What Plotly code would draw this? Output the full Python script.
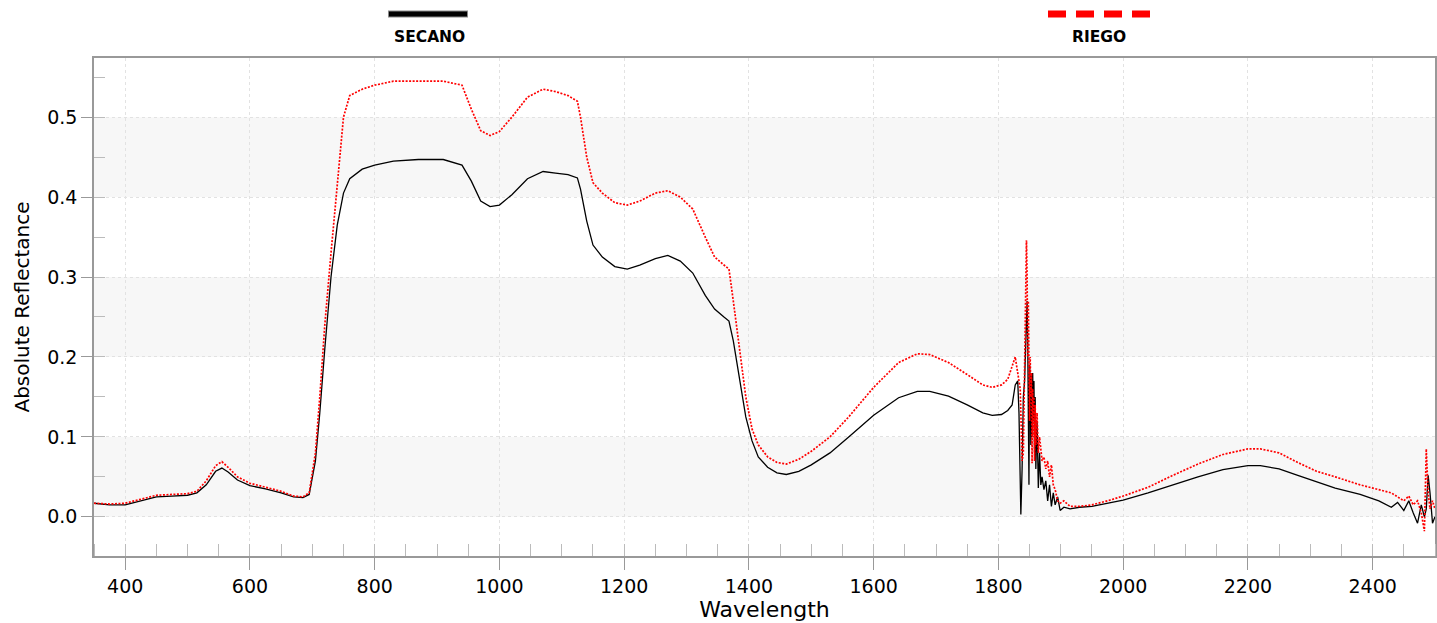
import plotly.graph_objects as go

wavelength = [350, 375, 400, 425, 450, 475, 500, 515, 530, 545, 555, 565, 580, 600, 625, 650, 670, 685,
              695, 705, 712, 720, 730, 740, 750, 760, 780, 800, 830, 870, 910, 940, 955, 970, 985, 1000,
              1020, 1045, 1070, 1090, 1110, 1125, 1130, 1140, 1150, 1165, 1185, 1205, 1225, 1250, 1270,
              1290, 1310, 1330, 1345, 1360, 1368, 1375, 1385, 1395, 1405, 1415, 1430, 1445, 1460, 1480,
              1500, 1530, 1560, 1600, 1640, 1670, 1690, 1720, 1750, 1775, 1790, 1805, 1815, 1822, 1827,
              1831, 1833, 1835, 1836, 1838, 1840, 1842, 1844, 1845, 1846,
              1847, 1848, 1849, 1850, 1851, 1852, 1853, 1854, 1855, 1856,
              1857, 1858, 1859, 1860, 1862, 1864, 1866, 1868, 1870, 1873,
              1876, 1879, 1882, 1885, 1888, 1891, 1895, 1899, 1905,
              1915, 1930, 1950, 1975, 2000, 2040, 2080, 2120, 2160, 2200, 2220, 2250, 2280, 2310, 2340,
              2380, 2410, 2430, 2440, 2450, 2458, 2465, 2472, 2478, 2483, 2486, 2489, 2492, 2496, 2500]

secano = [0.017, 0.015, 0.015, 0.020, 0.025, 0.026, 0.027, 0.030, 0.040, 0.057, 0.061, 0.056, 0.046, 0.039,
          0.035, 0.030, 0.025, 0.024,
          0.028, 0.070, 0.130, 0.210, 0.300, 0.365, 0.405, 0.423, 0.435, 0.440, 0.445, 0.447, 0.447, 0.440,
          0.420, 0.395, 0.388, 0.390,
          0.403, 0.423, 0.432, 0.430, 0.428, 0.424, 0.410, 0.370, 0.340, 0.325, 0.313, 0.310, 0.315, 0.323,
          0.327,
          0.320, 0.305, 0.277, 0.260, 0.250, 0.245, 0.220, 0.170, 0.125, 0.095, 0.075, 0.062, 0.055, 0.053,
          0.057,
          0.065, 0.080, 0.100, 0.127, 0.149, 0.157, 0.157, 0.151, 0.140, 0.130, 0.127, 0.128, 0.133, 0.140,
          0.165,
          0.170, 0.130, 0.050, 0.003, 0.060, 0.150, 0.170, 0.220, 0.250, 0.270,
          0.220, 0.050, 0.040, 0.190, 0.170, 0.090, 0.180, 0.100, 0.180, 0.120,
          0.170, 0.080, 0.150, 0.060, 0.120, 0.036, 0.080, 0.040, 0.050, 0.034,
          0.045, 0.020, 0.040, 0.013, 0.030, 0.015, 0.025, 0.008, 0.012,
          0.010, 0.012, 0.013, 0.017, 0.021, 0.030, 0.040, 0.050, 0.059, 0.064, 0.064, 0.060, 0.052, 0.044,
          0.036,
          0.028, 0.020, 0.012, 0.018, 0.008, 0.020, 0.005, -0.008, 0.015, 0.000, 0.010, 0.052, 0.030, -0.008,
          0.000]

riego = [0.017, 0.016, 0.017, 0.022, 0.027, 0.028, 0.029, 0.032, 0.045, 0.064, 0.069, 0.062, 0.050, 0.042,
         0.037, 0.032, 0.026, 0.025,
         0.030, 0.080, 0.150, 0.240, 0.330, 0.420, 0.500, 0.527, 0.535, 0.540, 0.545, 0.545, 0.545, 0.540,
         0.510, 0.483, 0.477, 0.482,
         0.500, 0.525, 0.535, 0.532, 0.527, 0.520, 0.500, 0.450, 0.418, 0.405, 0.393, 0.390, 0.395, 0.405,
         0.408,
         0.400, 0.385, 0.350, 0.325, 0.315, 0.310, 0.270, 0.210, 0.150, 0.110, 0.090, 0.075, 0.068, 0.066,
         0.072,
         0.082, 0.100, 0.125, 0.162, 0.193, 0.204, 0.203, 0.193, 0.178, 0.165, 0.162, 0.165, 0.172, 0.190,
         0.200,
         0.180, 0.170, 0.160, 0.130, 0.070, 0.080, 0.200, 0.300, 0.346, 0.300,
         0.200, 0.270, 0.190, 0.120, 0.200, 0.150, 0.180, 0.067, 0.160, 0.100,
         0.150, 0.070, 0.140, 0.090, 0.130, 0.080, 0.100, 0.084, 0.070, 0.075,
         0.060, 0.070, 0.050, 0.065, 0.040, 0.034, 0.020, 0.017, 0.020,
         0.013, 0.013, 0.015, 0.020, 0.026, 0.037, 0.052, 0.066, 0.078, 0.085, 0.085, 0.080, 0.068, 0.057,
         0.050,
         0.040, 0.034, 0.030, 0.025, 0.020, 0.026, 0.015, 0.020, 0.005, -0.018, 0.085, 0.030, 0.010, 0.020,
         0.010]

assert len(wavelength) == len(secano) == len(riego)

x_ticks = [400, 600, 800, 1000, 1200, 1400, 1600, 1800, 2000, 2200, 2400]
y_ticks = [0.0, 0.1, 0.2, 0.3, 0.4, 0.5]
bands = [(0.0, 0.1), (0.2, 0.3), (0.4, 0.5)]

fig = go.Figure()
fig.add_trace(go.Scatter(x=wavelength, y=secano, mode="lines", name="SECANO",
                         line=dict(color="black", width=1.3)))
fig.add_trace(go.Scatter(x=wavelength, y=riego, mode="lines", name="RIEGO",
                         line=dict(color="red", width=1.7, dash="2px,1.5px")))

shapes = []
for lo, hi in bands:
    shapes.append(dict(type="rect", xref="x domain", yref="y", x0=0, x1=1, y0=lo, y1=hi,
                       fillcolor="#f7f7f7", line=dict(width=0), layer="below"))
# legend glyphs
ly = (556 - 14) / 498
shapes.append(dict(type="line", xref="paper", yref="paper", x0=(388 - 94) / 1341, x1=(468 - 94) / 1341,
                   y0=ly, y1=ly, line=dict(color="#888888", width=7)))
shapes.append(dict(type="line", xref="paper", yref="paper", x0=(389 - 94) / 1341, x1=(467 - 94) / 1341,
                   y0=ly, y1=ly, line=dict(color="black", width=5)))
shapes.append(dict(type="line", xref="paper", yref="paper", x0=(1048 - 94) / 1341, x1=(1150 - 94) / 1341,
                   y0=ly, y1=ly, line=dict(color="red", width=7, dash="18px,10px")))

annotations = [
    dict(text="<b>SECANO</b>", xref="paper", yref="paper", x=(429 - 94) / 1341, y=(556 - 37) / 498,
         showarrow=False, font=dict(family="DejaVu Sans", size=15.5, color="black"),
         xanchor="center", yanchor="middle"),
    dict(text="<b>RIEGO</b>", xref="paper", yref="paper", x=(1099 - 94) / 1341, y=(556 - 37) / 498,
         showarrow=False, font=dict(family="DejaVu Sans", size=15.5, color="black"),
         xanchor="center", yanchor="middle"),
]

fig.update_layout(
    width=1437, height=623,
    margin=dict(l=94, r=2, t=58, b=67, autoexpand=False),
    paper_bgcolor="white", plot_bgcolor="white",
    showlegend=False,
    shapes=shapes, annotations=annotations,
    font=dict(family="DejaVu Sans", color="black"),
)
fig.update_xaxes(
    range=[350, 2500], tickvals=x_ticks, ticktext=[str(v) for v in x_ticks],
    ticks="outside", ticklen=12, tickcolor="#999999",
    minor=dict(dtick=50, tick0=0, ticks="inside", ticklen=12, tickcolor="#bbbbbb", showgrid=False),
    showline=True, linecolor="#999999", linewidth=1.5, mirror=True,
    showgrid=True, gridcolor="#e2e2e2", griddash="dot", gridwidth=1,
    zeroline=False, tickfont=dict(size=19), automargin=False,
    title=dict(text="Wavelength", font=dict(size=22), standoff=2),
)
fig.update_yaxes(
    range=[-0.049, 0.574], tickvals=y_ticks, ticktext=["%.1f" % v for v in y_ticks],
    ticks="outside", ticklen=11, tickcolor="#999999",
    minor=dict(dtick=0.05, tick0=0, ticks="inside", ticklen=11, tickcolor="#bbbbbb", showgrid=False),
    showline=True, linecolor="#999999", linewidth=1.5, mirror=True,
    showgrid=True, gridcolor="#e2e2e2", griddash="dot", gridwidth=1,
    zeroline=False, tickfont=dict(size=19), automargin=False,
    title=dict(text="Absolute Reflectance", font=dict(size=20), standoff=12),
)

fig.write_html("out.html", config={"displayModeBar": False},
               post_script="document.body.style.margin='0';document.body.style.overflow='hidden';")
